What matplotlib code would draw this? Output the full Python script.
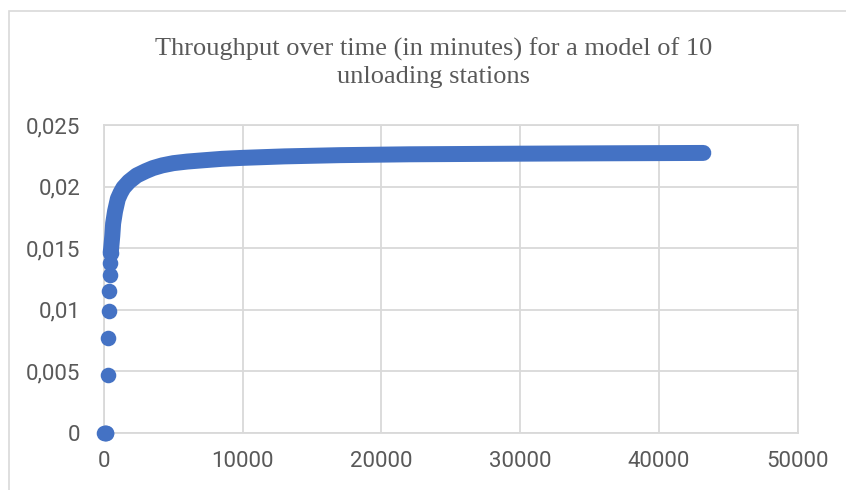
import matplotlib
matplotlib.use("Agg")
import matplotlib.pyplot as plt
from matplotlib.ticker import FuncFormatter, MultipleLocator
from matplotlib.patches import Rectangle

# time in minutes, throughput
early_time = [0, 60, 120, 180, 270, 310, 350, 385, 420, 450, 480]
early_thru = [0, 0, 0, 0, 0.0047, 0.0077, 0.0099, 0.0115, 0.0128, 0.0138, 0.0146]

band_time = [480, 520, 600, 660, 800, 1000, 1200, 1400, 1800, 2360, 3000,
             3530, 4200, 5000, 6000, 7000, 8500, 10000, 13000, 17000, 22000,
             30000, 36000, 43200]
band_thru = [0.0146, 0.0150, 0.0160, 0.0170, 0.0180, 0.0190, 0.0195, 0.0199,
             0.0204, 0.0209, 0.02125, 0.0215, 0.02172, 0.0219, 0.02203,
             0.02212, 0.02225, 0.02233, 0.02245, 0.02255, 0.02262, 0.02267,
             0.0227, 0.02273]

title = "Throughput over time (in minutes) for a model of 10\nunloading stations"

blue = "#4472C4"
grey = "#595959"
grid = "#d9d9d9"

fig = plt.figure(figsize=(8.46, 4.9), dpi=100)
fig.patches.append(Rectangle((9 / 846, -0.1), 1.2, (490 - 11) / 490 + 0.1,
                             transform=fig.transFigure, fill=False,
                             edgecolor=grid, linewidth=1.2))
ax = fig.add_axes([0.1229, 0.1169, 0.9429 - 0.1229, 0.7449 - 0.1169])

ax.plot(band_time, band_thru, color=blue, linewidth=11.5,
        solid_capstyle="round", solid_joinstyle="round", zorder=3)
ax.plot(early_time, early_thru, linestyle="none", marker="o",
        markersize=11.2, color=blue, markeredgewidth=0, zorder=3)

ax.set_xlim(0, 50000)
ax.set_ylim(0, 0.025)
ax.xaxis.set_major_locator(MultipleLocator(10000))
ax.yaxis.set_major_locator(MultipleLocator(0.005))
ax.yaxis.set_major_formatter(FuncFormatter(lambda v, p: ("%g" % round(v, 4)).replace(".", ",")))
ax.xaxis.set_major_formatter(FuncFormatter(lambda v, p: "%d" % v))

ax.grid(True, color=grid, linewidth=1.3)
ax.set_axisbelow(True)
for s in ax.spines.values():
    s.set_color(grid)
    s.set_linewidth(1.3)
ax.tick_params(length=0, labelsize=16, labelcolor=grey, labelfontfamily="Roboto")
ax.tick_params(axis="y", pad=17)
ax.tick_params(axis="x", pad=13)
for line in ax.lines:
    line.set_clip_on(False)

fig.text(0.512, 1 - 63 / 490, title, ha="center", va="center",
         fontsize=19, color=grey, family="Liberation Serif", linespacing=1.28)

fig.savefig("out.png", dpi=100)
